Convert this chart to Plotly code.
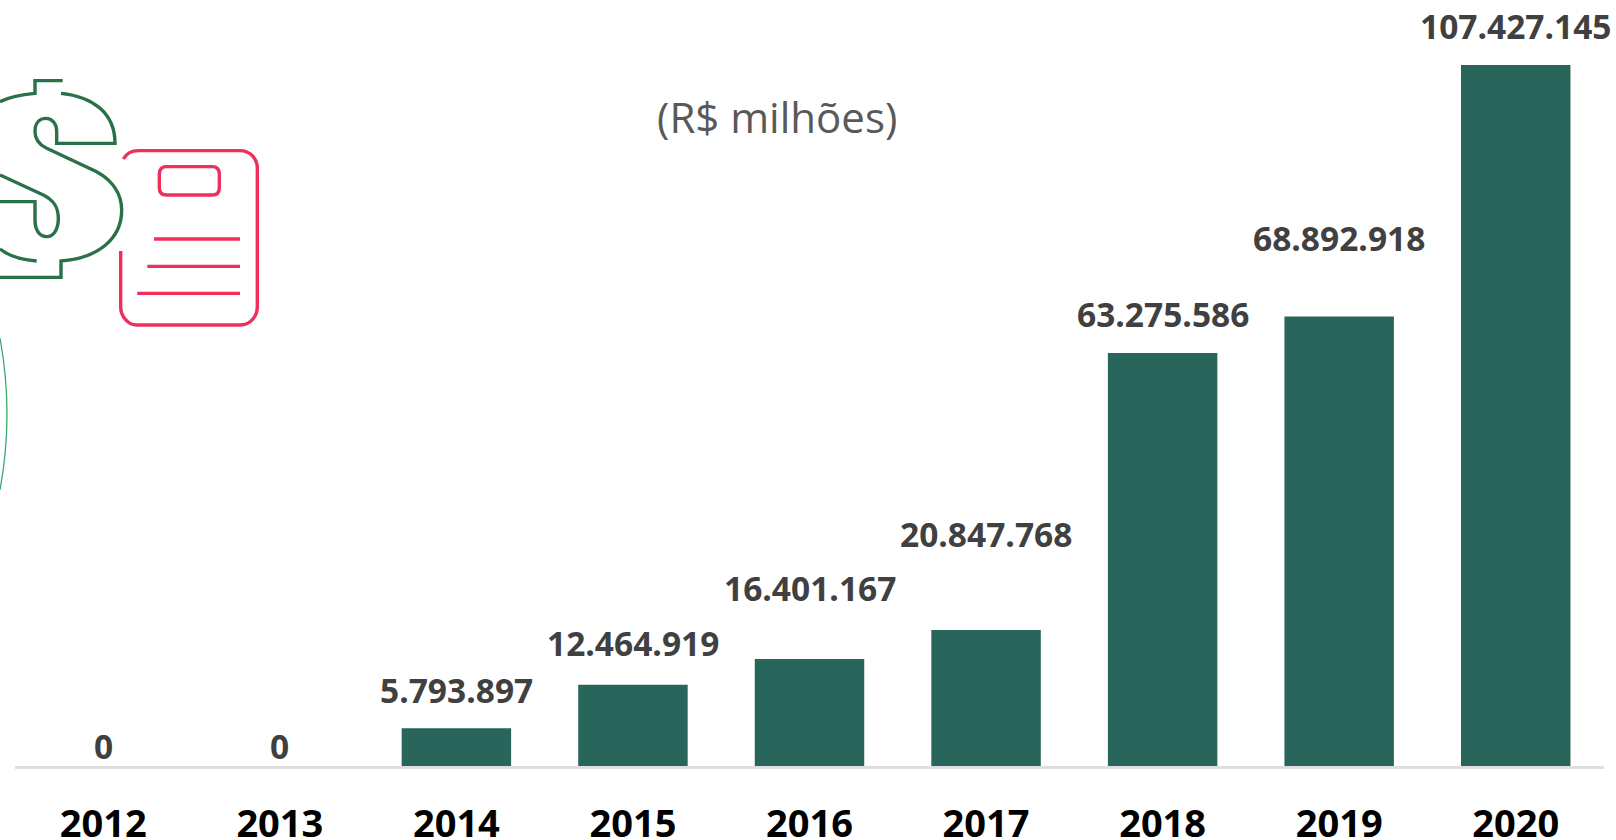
import plotly.graph_objects as go

years = ["2012", "2013", "2014", "2015", "2016", "2017", "2018", "2019", "2020"]
values = [0, 0, 5793897, 12464919, 16401167, 20847768, 63275586, 68892918, 107427145]
label_lift_px = [20, 20, 38, 42, 71, 96, 39, 78, 39]
unit_title = "(R$ milhões)"

W, H = 1616, 840
BASE_Y = 766
TOP_VALUE = 107427145
TOP_BAR_Y = 65
FONT = "Open Sans"

def fmt(v):
    return f"{v:,}".replace(",", ".")

fig = go.Figure(go.Bar(
    x=years, y=values, width=0.62,
    marker=dict(color="#28665B", line=dict(width=0)),
    hoverinfo="skip",
))

annotations = [
    dict(x=i, y=v, xref="x", yref="y", text=f"<b>{fmt(v)}</b>", showarrow=False,
         xanchor="center", yanchor="middle", yshift=lift,
         font=dict(family=FONT, size=33.5, color="#404040"))
    for i, (v, lift) in enumerate(zip(values, label_lift_px))
]
annotations.append(dict(x=777 / W, y=1 - 117 / H, xref="paper", yref="paper", text=unit_title,
                        showarrow=False, xanchor="center", yanchor="middle",
                        font=dict(family=FONT, size=42, color="#595959")))


def zoom_path(segments, ox=0, oy=60, k=3):
    out = []
    for cmd, pts in segments:
        coords = " ".join(f"{(ox + a / k) / W:.5f},{1 - (oy + b / k) / H:.5f}" for a, b in pts)
        out.append(f"{cmd}{coords}")
    return " ".join(out)


def icon(segments, color, width=3.4, **kw):
    return dict(type="path", xref="paper", yref="paper", path=zoom_path(segments, **kw),
                line=dict(color=color, width=width), layer="above")


GREEN = "#2A7048"
PINK = "#EE2F5B"
shapes = [
    icon([("M", [(188, 62)]), ("L", [(105, 62)]), ("L", [(105, 100)]),
          ("C", [(70, 103), (30, 110), (0, 125)])], GREEN),
    icon([("M", [(183, 100)]), ("C", [(280, 110), (345, 160), (345, 250)]), ("L", [(170, 250)]),
          ("L", [(170, 215)]), ("C", [(170, 190), (155, 175), (138, 175)]),
          ("C", [(118, 175), (105, 190), (105, 215)]), ("C", [(105, 240), (120, 255), (140, 265)]),
          ("L", [(290, 335)]), ("C", [(335, 360), (365, 400), (365, 450)]),
          ("C", [(365, 540), (290, 595), (183, 603)]), ("L", [(183, 652)]), ("L", [(0, 652)])], GREEN),
    icon([("M", [(0, 345)]), ("L", [(130, 405)]), ("C", [(160, 420), (175, 440), (175, 475)]),
          ("C", [(175, 510), (160, 530), (140, 530)]), ("C", [(118, 530), (105, 510), (105, 480)]),
          ("L", [(105, 425)]), ("L", [(0, 425)])], GREEN),
    icon([("M", [(0, 567)]), ("C", [(30, 590), (70, 600), (110, 603)])], GREEN),
    icon([("M", [(370, 297)]), ("C", [(380, 280), (395, 272), (415, 272)]), ("L", [(720, 272)]),
          ("C", [(750, 272), (772, 295), (772, 325)]), ("L", [(772, 740)]),
          ("C", [(772, 770), (750, 795), (720, 795)]), ("L", [(410, 795)]),
          ("C", [(385, 795), (362, 770), (362, 740)]), ("L", [(362, 573)])], PINK),
    icon([("M", [(500, 320)]), ("L", [(636, 320)]), ("C", [(650, 320), (658, 328), (658, 342)]),
          ("L", [(658, 383)]), ("C", [(658, 397), (650, 405), (636, 405)]), ("L", [(500, 405)]),
          ("C", [(486, 405), (478, 397), (478, 383)]), ("L", [(478, 342)]),
          ("C", [(478, 328), (486, 320), (500, 320)])], PINK),
    icon([("M", [(462, 537)]), ("L", [(720, 537)])], PINK),
    icon([("M", [(442, 619)]), ("L", [(720, 619)])], PINK),
    icon([("M", [(412, 700)]), ("L", [(720, 700)])], PINK),
    icon([("M", [(0, 338)]), ("Q", [(14, 414), (0, 490)])], "#3CA86F", width=1.3, k=1, oy=0),
]

fig.update_layout(
    width=W, height=H, autosize=False, showlegend=False,
    margin=dict(l=0, r=0, t=0, b=0),
    paper_bgcolor="white", plot_bgcolor="white",
    annotations=annotations, shapes=shapes,
    xaxis=dict(domain=[15 / W, 1604 / W], type="category", range=[-0.5, 8.5], showgrid=False,
               automargin=False,
               showline=True, linecolor="#DEDEDE", linewidth=3, ticks="", ticklabelstandoff=22,
               tickfont=dict(family=FONT, size=38, color="#000000", weight="bold"), fixedrange=True),
    yaxis=dict(domain=[(H - BASE_Y) / H, 1], range=[0, TOP_VALUE * BASE_Y / (BASE_Y - TOP_BAR_Y)],
               automargin=False, visible=False, fixedrange=True),
)

fig.write_html("out.html", config={"displayModeBar": False},
               post_script="document.documentElement.style.overflow='hidden';document.body.style.margin='0';")
